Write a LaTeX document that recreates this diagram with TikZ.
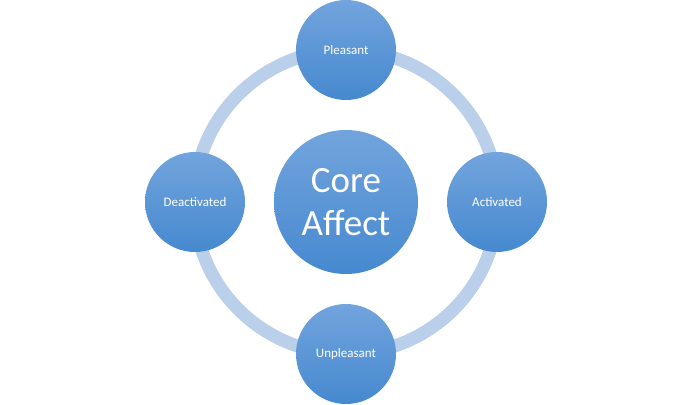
\documentclass[tikz,border=0pt]{standalone}
\usepackage{fontspec}
\setmainfont{Carlito}
\definecolor{ringc}{HTML}{B9CFEA}
\definecolor{ctop}{HTML}{72A4DD}
\definecolor{cbot}{HTML}{4689CF}
\tikzset{
  bubble/.style={circle, minimum size=100pt, inner sep=0pt, top color=ctop, bottom color=cbot, text=white, font=\fontsize{13}{15}\selectfont},
  corebubble/.style={bubble, minimum size=144pt, font=\fontsize{37}{43}\selectfont},
  ring/.style={draw=ringc, line width=13pt}
}
\begin{document}
\begin{tikzpicture}[x=1pt,y=1pt]
\useasboundingbox (0,0) rectangle (692,404);
\coordinate (c) at (346,202);
\draw[ring] (c) circle (152);
\node[corebubble, align=center] (core) at (c) {Core\\Affect};
\node[bubble] (pl) at (346,354) {Pleasant};
\node[bubble] (ac) at (497,202) {Activated};
\node[bubble] (un) at (346,50) {Unpleasant};
\node[bubble] (de) at (195,202) {Deactivated};
\end{tikzpicture}
\end{document}
